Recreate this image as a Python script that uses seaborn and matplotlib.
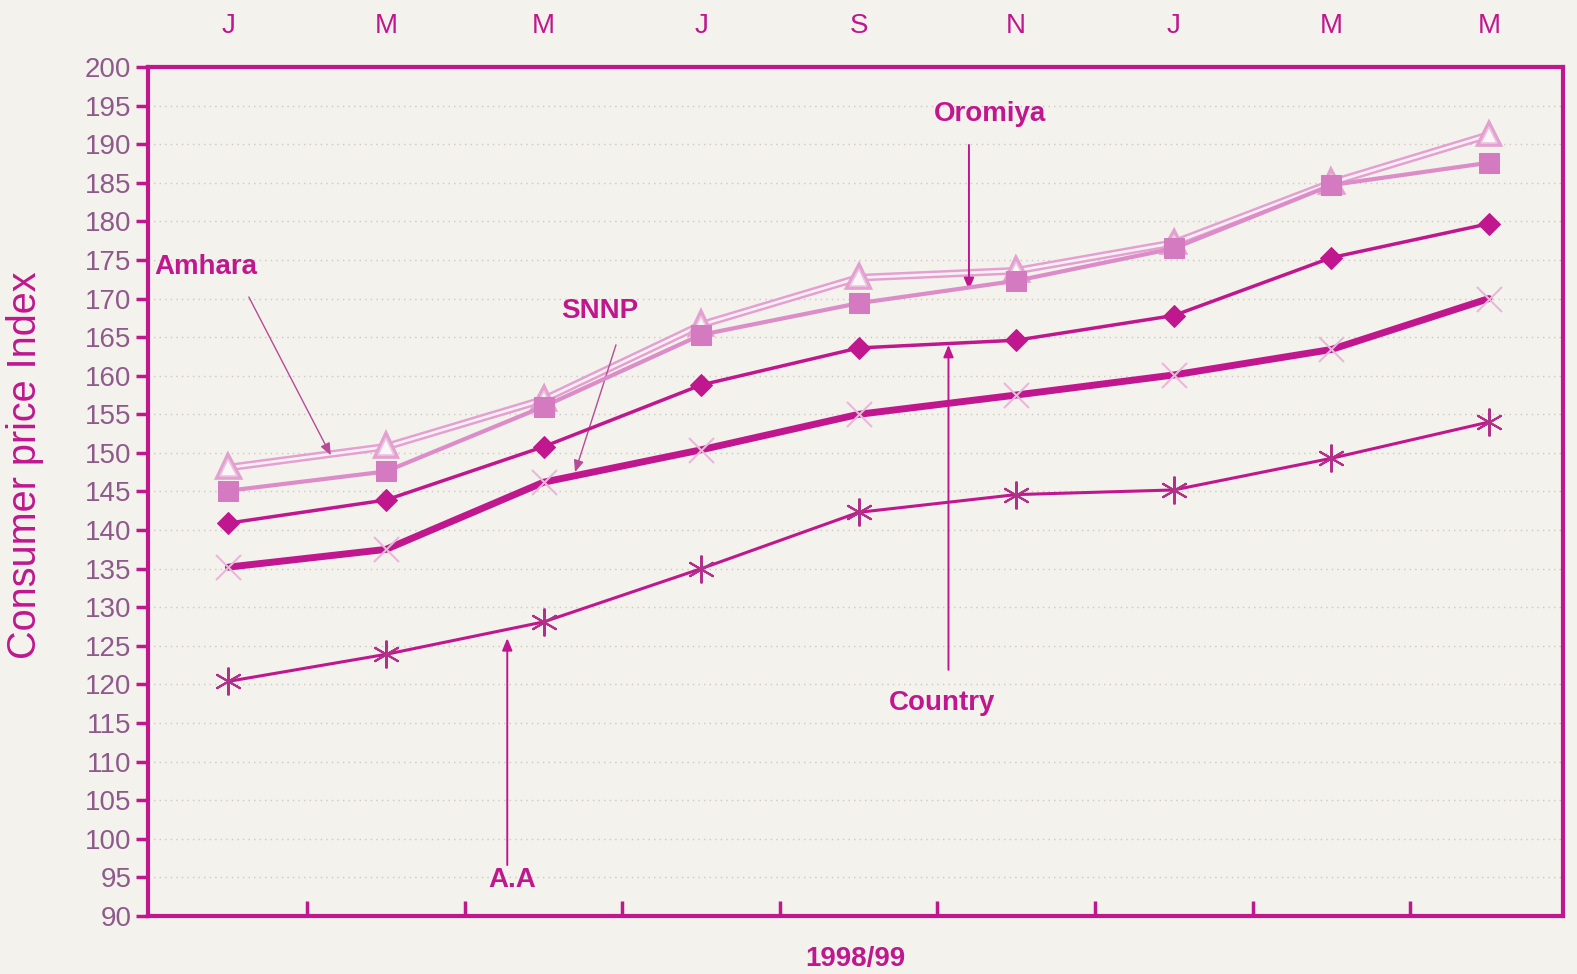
import matplotlib
matplotlib.use("Agg")
import matplotlib.pyplot as plt
import matplotlib.patheffects as pe
import seaborn as sns
import pandas as pd
import numpy as np

# ---- data ----
months = ["J", "M", "M", "J", "S", "N", "J", "M", "M"]
amhara = [148.1, 150.8, 156.9, 166.6, 172.7, 173.6, 177.2, 185.0, 191.2]
oromiya = [145.1, 147.6, 156.0, 165.3, 169.4, 172.3, 176.5, 184.7, 187.6]
country = [140.9, 143.9, 150.8, 158.8, 163.6, 164.6, 167.8, 175.3, 179.7]
snnp = [135.2, 137.5, 146.2, 150.4, 155.0, 157.5, 160.1, 163.4, 170.0]
aa = [120.4, 123.9, 128.1, 135.0, 142.3, 144.6, 145.2, 149.3, 154.0]
yticks = list(range(90, 205, 5))

sns.set_theme(style="white")
plt.rcParams["font.family"] = ["Liberation Sans", "DejaVu Sans"]

MAG = "#C0178E"
TICKC = "#8E5A8C"
BG = "#F4F2EC"

fig = plt.figure(figsize=(15.77, 9.74), dpi=100, facecolor=BG)
ax = fig.add_axes([148/1577, 1-916/974, (1563-148)/1577, (916-67)/974])
ax.set_facecolor(BG)

x = np.arange(len(months))
df = pd.DataFrame({"x": x, "Amhara": amhara, "Oromiya": oromiya,
                   "Country": country, "SNNP": snnp, "A.A": aa})

# grid
for yv in yticks[1:-1]:
    ax.axhline(yv, color="#cfc6c6", lw=1.0, ls=(0, (1, 3)), zorder=0)

# Amhara: hollow double line
sns.lineplot(data=df, x="x", y="Amhara", ax=ax, color="#F8EEF4", lw=2.0,
             marker="^", markersize=12, markerfacecolor="#FBF6F8",
             markeredgecolor="#EBC6E0", markeredgewidth=1.2,
             path_effects=[pe.Stroke(linewidth=5.5, foreground="#E3A0D0"), pe.Normal()],
             zorder=3)
# Oromiya
sns.lineplot(data=df, x="x", y="Oromiya", ax=ax, color="#DC8CC8", lw=3.0,
             marker="s", markersize=14, markerfacecolor="#D47AC0",
             markeredgecolor="#D47AC0", zorder=4)
# Country
sns.lineplot(data=df, x="x", y="Country", ax=ax, color=MAG, lw=2.5,
             marker="D", markersize=11, markerfacecolor=MAG,
             markeredgecolor=MAG, zorder=5)
# SNNP
sns.lineplot(data=df, x="x", y="SNNP", ax=ax, color=MAG, lw=5,
             marker="x", markersize=18, markeredgecolor="#E8B8DA",
             markeredgewidth=1.5, zorder=4)
# A.A
sns.lineplot(data=df, x="x", y="A.A", ax=ax, color=MAG, lw=2.2,
             marker=(6, 2, 0), markersize=20, markeredgecolor="#B0308A",
             markeredgewidth=1.5, zorder=5)

ax.set_xlim(-0.51, 8.47)
ax.set_ylim(90, 200)
ax.set_yticks(yticks)
ax.set_yticklabels([str(v) for v in yticks], color=TICKC, fontsize=20)
ax.tick_params(axis="y", direction="out", length=9, width=2.5, color=MAG, pad=3, left=True)
ax.set_xticks(x[:-1] + 0.5)
ax.set_xticklabels([])
ax.tick_params(axis="x", direction="in", length=11, width=2.5, color=MAG, bottom=True)
for s in ax.spines.values():
    s.set_color(MAG)
    s.set_linewidth(3)
ax.set_xlabel("1998/99", color=MAG, fontsize=20, fontweight="bold", labelpad=18)
ax.set_ylabel("Consumer price Index", color=MAG, fontsize=28.5)
ax.yaxis.set_label_coords(-0.0735, 0.531)
ax.grid(False)

sec = ax.secondary_xaxis("top")
sec.set_xticks(x)
sec.set_xticklabels(months, color=MAG, fontsize=20)
sec.tick_params(length=0, pad=20)
sec.spines["top"].set_visible(False)

# annotations
tkw = dict(color=MAG, fontsize=20, fontweight="bold")
akw = dict(arrowstyle="-|>,head_length=0.6,head_width=0.25", color=MAG, lw=1.4, shrinkA=0, shrinkB=0)
ax.text(-0.47, 174.1, "Amhara", ha="left", va="center", **tkw)
ax.annotate("", xy=(0.65, 149.7), xytext=(0.13, 170.2), arrowprops=dict(akw, color="#B84A98", lw=1.0))
ax.text(2.36, 168.4, "SNNP", ha="center", va="center", **tkw)
ax.annotate("", xy=(2.20, 147.5), xytext=(2.46, 164.0), arrowprops=dict(akw, color="#B84A98", lw=1.0))
ax.text(4.835, 193.9, "Oromiya", ha="center", va="center", **tkw)
ax.annotate("", xy=(4.70, 171.1), xytext=(4.70, 189.9), arrowprops=akw)
ax.text(4.53, 117.6, "Country", ha="center", va="center", **tkw)
ax.annotate("", xy=(4.57, 164.0), xytext=(4.57, 121.9), arrowprops=akw)
ax.text(1.80, 94.7, "A.A", ha="center", va="center", **tkw)
ax.annotate("", xy=(1.77, 126.0), xytext=(1.77, 96.6), arrowprops=akw)

fig.savefig("out.png", dpi=100, facecolor=BG)
